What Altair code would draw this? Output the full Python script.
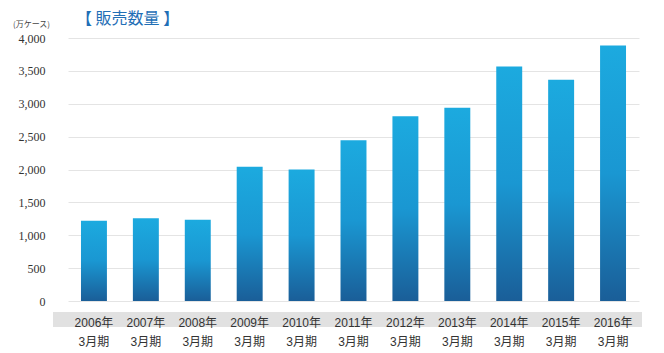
import altair as alt
import pandas as pd

years = ["2006年", "2007年", "2008年", "2009年", "2010年", "2011年",
         "2012年", "2013年", "2014年", "2015年", "2016年"]
sales = [1220, 1260, 1235, 2040, 2000, 2445, 2810, 2940, 3565, 3365, 3885]
y_ticks = [0, 500, 1000, 1500, 2000, 2500, 3000, 3500, 4000]

df = pd.DataFrame({"year": years, "sales": sales})

W, H = 586, 263

grad = alt.Gradient(
    gradient="linear", x1=0, y1=0, x2=0, y2=1,
    stops=[alt.GradientStop(color="#1caadf", offset=0),
           alt.GradientStop(color="#1a97d2", offset=0.5),
           alt.GradientStop(color="#1a5e98", offset=1)],
)

xs = alt.X("year:N", sort=years,
           scale=alt.Scale(range=[15, 586], paddingInner=0.5, paddingOuter=0.25),
           axis=alt.Axis(title=None, labelAngle=0, ticks=False, domain=False, zindex=1,
                         labelFont="Liberation Sans, Noto Sans CJK JP", labelFontSize=12,
                         labelColor="#333333", labelPadding=16, labelLineHeight=19,
                         labelExpr="[datum.label, '3月期']"))

band = alt.Chart(pd.DataFrame({"a": [0]})).mark_rect(color="#e1e1e1", clip=False).encode(
    x=alt.value(0), x2=alt.value(589), y=alt.value(274), y2=alt.value(289)
)

bars = alt.Chart(df).mark_bar(color=grad).encode(
    x=xs,
    y=alt.Y("sales:Q", scale=alt.Scale(domain=[0, 4000], nice=False),
            axis=alt.Axis(title=None, values=y_ticks, format=",d", ticks=False, domain=False,
                          labelFont="Liberation Serif, Times New Roman, serif", labelFontSize=12,
                          labelColor="#333333", labelPadding=8, gridColor="#e4e4e4", gridWidth=1)),
)

title = alt.Chart(pd.DataFrame({"t": ["【 販売数量 】"]})).mark_text(
    align="left", baseline="middle", font="Noto Sans CJK JP", fontSize=16,
    color="#1f6fb6", clip=False
).encode(x=alt.value(23), y=alt.value(-19), text="t:N")

unit = alt.Chart(pd.DataFrame({"t": ["(万ケース)"]})).mark_text(
    align="left", baseline="middle", font="Noto Sans CJK JP", fontSize=8,
    color="#444444", clip=False
).encode(x=alt.value(-40), y=alt.value(-13), text="t:N")

chart = alt.layer(band, bars, title, unit).properties(
    width=W, height=H,
    padding={"left": 53, "top": 38, "right": 25, "bottom": 52},
    autosize=alt.AutoSizeParams(type="none"),
    background="white",
).configure_view(stroke=None)

chart.save("out.html", embed_options={"renderer": "svg", "actions": False})
